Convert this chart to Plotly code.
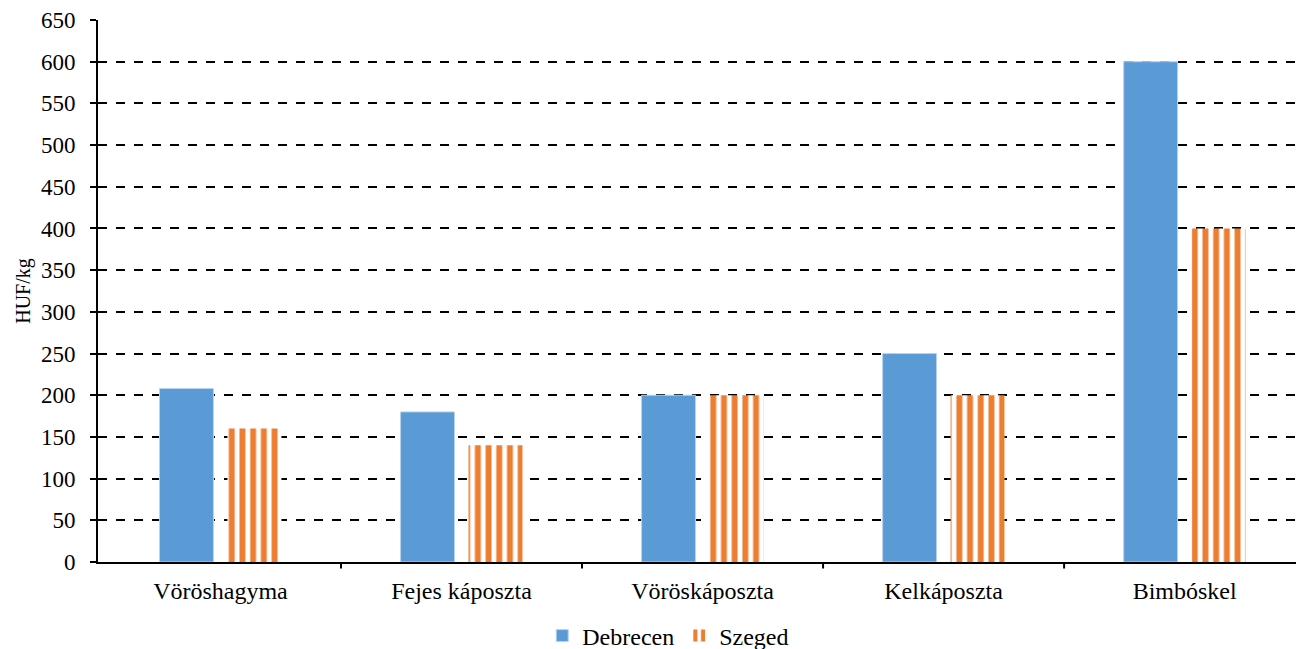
import plotly.graph_objects as go

categories = ["Vöröshagyma", "Fejes káposzta", "Vöröskáposzta", "Kelkáposzta", "Bimbóskel"]
debrecen = [208, 180, 200, 250, 600]
szeged = [160, 140, 200, 200, 400]
y_ticks = list(range(0, 651, 50))

font = "Liberation Serif, serif"

fig = go.Figure()
fig.add_trace(go.Bar(
    name="Debrecen", x=categories, y=debrecen,
    marker=dict(color="#5B9BD5", line=dict(color="#B9D3EE", width=1)),
))
fig.add_trace(go.Bar(
    name="Szeged", x=categories, y=szeged,
    marker=dict(color="#ED7D31", line=dict(width=0),
                pattern=dict(shape="|", size=10.7, solidity=0.55,
                             fgcolor="#ED7D31", bgcolor="#FFFFFF", fillmode="replace")),
))

fig.update_layout(
    width=1296, height=649,
    margin=dict(l=98, r=0, t=20, b=87, autoexpand=False),
    paper_bgcolor="white", plot_bgcolor="white",
    barmode="group", bargap=0.436, bargroupgap=0.206,
    font=dict(family=font, size=24, color="black"),
    showlegend=True,
    legend=dict(orientation="h", x=0.476, xanchor="center", yref="container",
                y=0.02, yanchor="middle",
                font=dict(family=font, size=24, color="black"),
                itemwidth=30, traceorder="normal"),
    xaxis=dict(
        range=[-0.508, 4.462], showline=True, linecolor="black", linewidth=2,
        ticks="", showgrid=False, tickfont=dict(family=font, size=24), ticklabelstandoff=6,
    ),
    yaxis=dict(
        range=[0, 650], tickvals=y_ticks, showline=True, linecolor="black", linewidth=2,
        ticks="outside", ticklen=6, tickwidth=2, tickcolor="black",
        showgrid=True, gridcolor="black", gridwidth=1.5, griddash="dash",
        zeroline=False, tickfont=dict(family=font, size=23), ticklabelstandoff=10,
        title=dict(text="HUF/kg", font=dict(family=font, size=20), standoff=5),
    ),
)

# category separator ticks on x-axis
for i in range(1, 5):
    fig.add_shape(type="line", xref="x", yref="paper", x0=i - 0.5, x1=i - 0.5,
                  y0=0, y1=-0.012, line=dict(color="black", width=2))

fig.write_html("out.html", config={"displayModeBar": False},
               post_script="document.body.style.margin='0';")
